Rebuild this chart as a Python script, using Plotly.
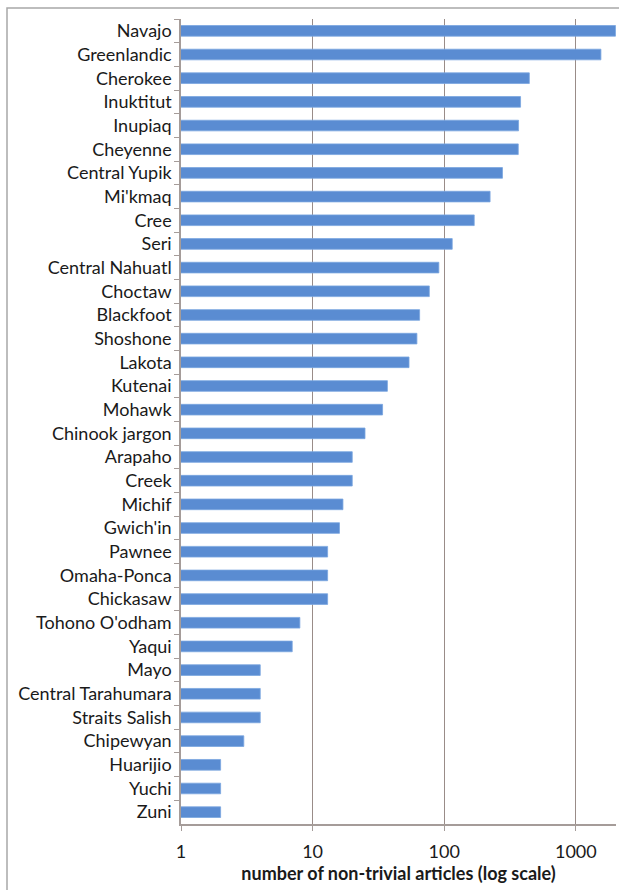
import plotly.graph_objects as go

# Languages, top to bottom, and their counts of non-trivial articles
languages = [
    "Navajo", "Greenlandic", "Cherokee", "Inuktitut", "Inupiaq", "Cheyenne",
    "Central Yupik", "Mi'kmaq", "Cree", "Seri", "Central Nahuatl", "Choctaw",
    "Blackfoot", "Shoshone", "Lakota", "Kutenai", "Mohawk", "Chinook jargon",
    "Arapaho", "Creek", "Michif", "Gwich'in", "Pawnee", "Omaha-Ponca",
    "Chickasaw", "Tohono O'odham", "Yaqui", "Mayo", "Central Tarahumara",
    "Straits Salish", "Chipewyan", "Huarijio", "Yuchi", "Zuni",
]
articles = [
    2000, 1550, 443, 380, 367, 365,
    277, 223, 169, 115, 91, 77,
    65, 62, 54, 37, 34, 25,
    20, 20, 17, 16, 13, 13,
    13, 8, 7, 4, 4,
    4, 3, 2, 2, 2,
]
x_tick_values = [1, 10, 100, 1000]
x_tick_labels = ["1", "10", "100", "1000"]
x_title = "number of non-trivial articles (log scale)"

W, H = 619, 890
L, R, T, B = 181, 3, 19, 66
plot_w = W - L - R
plot_h = H - T - B

FONT = "Lato"
TEXT = "#1a1a1a"
GRID = "#998c88"
AXIS = "#a59c99"

fig = go.Figure(
    go.Bar(
        x=articles,
        y=languages,
        orientation="h",
        marker=dict(color="#5a8cd2", line=dict(color="#7aa6e0", width=0.8)),
        hoverinfo="x+y",
    )
)

fig.update_layout(
    width=W,
    height=H,
    margin=dict(l=L, r=R, t=T, b=B),
    paper_bgcolor="white",
    plot_bgcolor="white",
    bargap=0.55,
    showlegend=False,
    font=dict(family=FONT, color=TEXT),
    xaxis=dict(
        type="log",
        range=[0, 3.305],
        tickvals=x_tick_values,
        ticktext=x_tick_labels,
        showgrid=True,
        gridcolor=GRID,
        gridwidth=1,
        showline=True,
        linecolor=AXIS,
        linewidth=1.5,
        ticks="outside",
        ticklen=5,
        tickcolor=AXIS,
        tickfont=dict(size=18, family=FONT, color=TEXT),
        ticklabelstandoff=6,
        zeroline=False,
        title=dict(
            text=x_title,
            font=dict(size=18, family=FONT, color=TEXT, weight="bold"),
            standoff=4,
        ),
    ),
    yaxis=dict(
        type="category",
        categoryorder="array",
        categoryarray=languages,
        autorange="reversed",
        showgrid=False,
        showline=True,
        linecolor=AXIS,
        linewidth=1.5,
        ticks="outside",
        tickson="boundaries",
        ticklen=5,
        tickcolor=AXIS,
        tickfont=dict(size=18, family=FONT, color=TEXT),
        ticklabelstandoff=4,
    ),
)

# Chart-area frame, running off the right and bottom edges
fx0 = (7 - L) / plot_w
fx1 = (W + 20 - L) / plot_w
fy1 = (T + plot_h - 8) / plot_h
fy0 = (T + plot_h - (H + 20)) / plot_h
fig.add_shape(
    type="rect", xref="paper", yref="paper",
    x0=fx0, x1=fx1, y0=fy0, y1=fy1,
    line=dict(color="#a8a8a8", width=1.5),
    fillcolor="rgba(0,0,0,0)", layer="below",
)

fig.write_html("out.html")
